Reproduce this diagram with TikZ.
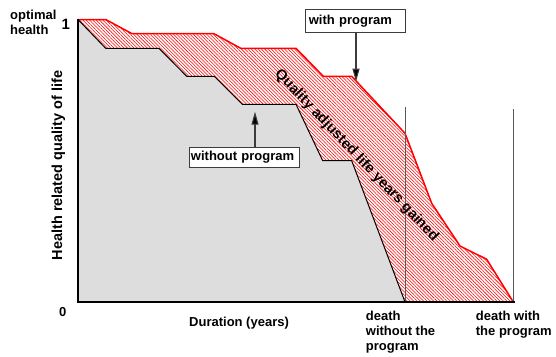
\documentclass[tikz,border=0pt]{standalone}
\usepackage{fontspec}
\setmainfont{Liberation Sans}
\usetikzlibrary{patterns.meta,arrows.meta}
\definecolor{qalygray}{RGB}{221,221,221}
\definecolor{boxline}{RGB}{60,60,60}
\tikzset{
  lbl/.style={font=\bfseries\fontsize{13}{15}\selectfont, inner sep=0pt},
  callout/.style={draw=boxline, line width=1pt, fill=white, font=\bfseries\fontsize{13}{15}\selectfont, inner sep=0pt, anchor=north west, align=left},
  pointer/.style={draw=boxline, line width=1.1pt, -{Triangle[length=13pt,width=7pt,fill=black]}},
  deathline/.style={draw=black!65, line width=0.9pt},
  axis/.style={draw=black, line width=2pt},
}
\begin{document}
\begin{tikzpicture}[x=1pt,y=-1pt]
\useasboundingbox (0,0) rectangle (556,356);
% gray area under curve without program
\fill[qalygray] (78,19.5) -- (105.7,48.3) -- (159,48.3) -- (186.7,76.3) -- (214.3,76.3) -- (242.3,104.3) -- (296,104.3) -- (322.7,160.7) -- (351.7,160.7) -- (405,302) -- (78,302) -- cycle;
% hatched area gained
\fill[white] (78,19.5) -- (105.7,19.5) -- (132,33.7) -- (214,33.7) -- (240.7,48.3) -- (296,48.3) -- (323.3,76.3) -- (351.7,76.3) -- (405,133.3) -- (431.7,203.3) -- (460,246) -- (486.7,259.3) -- (513.3,302) -- (405,302) -- (351.7,160.7) -- (322.7,160.7) -- (296,104.3) -- (242.3,104.3) -- (214.3,76.3) -- (186.7,76.3) -- (159,48.3) -- (105.7,48.3) -- cycle;
\path[pattern={Lines[angle=-45,distance=2.35pt,line width=0.55pt]}, pattern color=red] (78,19.5) -- (105.7,19.5) -- (132,33.7) -- (214,33.7) -- (240.7,48.3) -- (296,48.3) -- (323.3,76.3) -- (351.7,76.3) -- (405,133.3) -- (431.7,203.3) -- (460,246) -- (486.7,259.3) -- (513.3,302) -- (405,302) -- (351.7,160.7) -- (322.7,160.7) -- (296,104.3) -- (242.3,104.3) -- (214.3,76.3) -- (186.7,76.3) -- (159,48.3) -- (105.7,48.3) -- cycle;
% curves
\draw[red, line width=1.5pt, line join=round] (78,19.5) -- (105.7,19.5) -- (132,33.7) -- (214,33.7) -- (240.7,48.3) -- (296,48.3) -- (323.3,76.3) -- (351.7,76.3) -- (405,133.3) -- (431.7,203.3) -- (460,246) -- (486.7,259.3) -- (513.3,302);
\draw[black, line width=1pt, line join=round] (78,19.5) -- (105.7,48.3) -- (159,48.3) -- (186.7,76.3) -- (214.3,76.3) -- (242.3,104.3) -- (296,104.3) -- (322.7,160.7) -- (351.7,160.7) -- (405,302);
% death lines
\coordinate (d1top) at (405.7,107.3);
\coordinate (d1bot) at (405.7,302);
\coordinate (d2top) at (513.7,109);
\coordinate (d2bot) at (513.7,302);
\draw[deathline] (d1top) -- (d1bot);
\draw[deathline] (d2top) -- (d2bot);
% axes
\coordinate (origin) at (78,302);
\coordinate (ytop) at (78,18.5);
\coordinate (xend) at (515,302);
\draw[axis] (ytop) -- (origin) -- (xend);
% callouts
\node[callout, minimum width=100.6pt, minimum height=23pt, text width=96pt] (withp) at (304.7,9.3) {\hspace*{1.3pt}with program};
\node[callout, minimum width=110.3pt, minimum height=20.5pt, text width=108pt] (withoutp) at (189,146.7) {\hspace*{0.3pt}without program};
\coordinate (withtip) at (356,81.7);
\coordinate (withouttip) at (255,111.7);
\draw[pointer] (withp.south -| withtip) -- (withtip);
\draw[pointer] (withoutp.north -| withouttip) -- (withouttip);
% labels
\node[lbl, anchor=north west, align=left] (opt) at (10,10) {optimal\\health};
\node[lbl, font=\bfseries\fontsize{15}{17}\selectfont] (one) at (65.7,24) {1};
\node[lbl] (zero) at (62.7,311.7) {0};
\node[lbl, font=\bfseries\fontsize{14.5}{16}\selectfont, rotate=90] (ylab) at (58.3,165.5) {Health related quality of life};
\node[lbl, anchor=west] (xlab) at (189,323.3) {Duration (years)};
\node[lbl, anchor=north west, align=left] (dwo) at (365.7,310.5) {death\\without the\\program};
\node[lbl, anchor=north west, align=left] (dw) at (475.7,310.5) {death with\\the program};
\node[lbl, font=\bfseries\fontsize{14.5}{16}\selectfont, rotate=-46.5] (qaly) at (356.5,155.5) {Quality adjusted life years gained};
\end{tikzpicture}
\end{document}
